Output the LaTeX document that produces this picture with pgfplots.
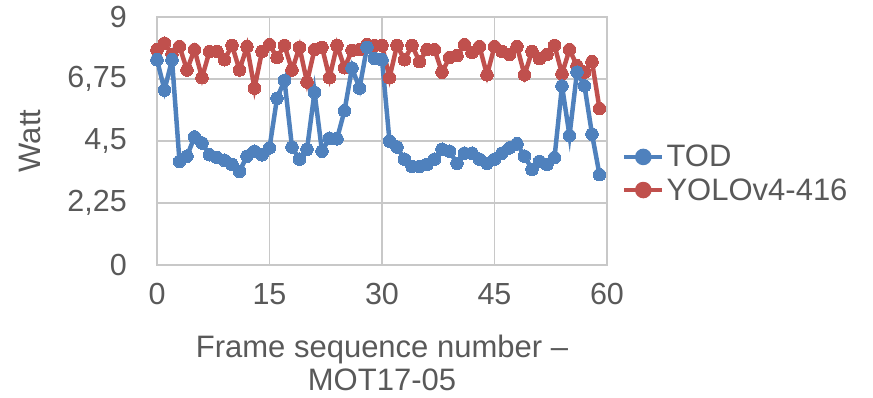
\documentclass[border=0pt]{standalone}
\usepackage{pgfplots}
\pgfplotsset{compat=1.18}
\usepackage{fontspec}
\setmainfont{Liberation Sans}
\definecolor{tod}{HTML}{4F81BD}
\definecolor{yolo}{HTML}{C0504D}
\definecolor{txt}{HTML}{595959}
\definecolor{gridc}{HTML}{C8C8C8}
\begin{document}
\begin{tikzpicture}
\path[use as bounding box] (0pt,0pt) rectangle (873pt,397pt);
\begin{axis}[
  at={(157pt,132pt)}, anchor=south west,
  scale only axis, width=450pt, height=248pt,
  xmin=0, xmax=60, ymin=0, ymax=9,
  xtick={0,15,30,45,60},
  ytick={0,2.25,4.5,6.75,9},
  yticklabels={0,{2,25},{4,5},{6,75},9},
  xticklabels={0,15,30,45,60},
  grid=major,
  major grid style={gridc, line width=1.5pt},
  axis line style={gridc, line width=1.5pt},
  tick style={draw=none},
  ticklabel style={font=\fontsize{30.5}{34}\selectfont, text=txt, inner sep=0pt},
  yticklabel style={xshift=-30pt},
  xticklabel style={yshift=-18pt},
  xlabel={Frame sequence number --\\MOT17-05},
  xlabel style={at={(axis description cs:0.5,0)}, anchor=north, inner sep=0pt,
     font=\fontsize{31}{32.5}\selectfont, text=txt, align=center, yshift=-70pt},
  ylabel={Watt},
  ylabel style={at={(axis description cs:-0.282,0.5)}, anchor=center,
     font=\fontsize{31}{34}\selectfont, text=txt},
  legend style={at={(1.033,0.369)}, anchor=west, draw=none, fill=none, inner sep=0pt,
     font=\fontsize{31}{34}\selectfont, text=txt, row sep=6pt},
  legend cell align=left,
  legend image code/.code={\draw[mark repeat=2,mark phase=2,#1] plot coordinates {(0pt,0pt) (19pt,0pt) (38pt,0pt)};},
]
\addlegendimage{tod, line width=4.5pt, mark=*, mark size=6pt, mark options={solid}}
\addlegendentry{TOD}
\addlegendimage{yolo, line width=4.5pt, mark=*, mark size=6pt, mark options={solid}}
\addlegendentry{YOLOv4-416}
\addplot[forget plot, yolo, line width=4.5pt, mark=*, mark size=6.3pt, mark options={solid, line width=0pt}] coordinates {
(0,7.82)(1,8.05)(2,7.64)(3,7.93)(4,7.08)(5,7.82)(6,6.8)(7,7.75)(8,7.75)(9,7.45)
(10,7.97)(11,7.08)(12,7.93)(13,6.42)(14,7.75)(15,8.0)(16,7.53)(17,7.97)(18,7.08)(19,7.9)
(20,6.64)(21,7.82)(22,7.9)(23,6.8)(24,7.97)(25,7.16)(26,7.79)(27,7.82)(28,8.0)(29,7.97)
(30,7.97)(31,6.8)(32,7.97)(33,7.45)(34,7.97)(35,7.38)(36,7.82)(37,7.82)(38,7.0)(39,7.53)
(40,7.6)(41,8.0)(42,7.71)(43,7.93)(44,6.9)(45,7.93)(46,7.75)(47,7.64)(48,7.93)(49,6.9)
(50,7.75)(51,7.49)(52,7.64)(53,7.97)(54,6.94)(55,7.82)(56,7.23)(57,7.0)(58,7.38)(59,5.68)
};
\addplot[forget plot, tod, line width=4.5pt, mark=*, mark size=6.3pt, mark options={solid, line width=0pt}] coordinates {
(0,7.45)(1,6.35)(2,7.45)(3,3.76)(4,3.95)(5,4.65)(6,4.43)(7,4.0)(8,3.9)(9,3.8)
(10,3.65)(11,3.4)(12,3.95)(13,4.13)(14,4.0)(15,4.25)(16,6.05)(17,6.7)(18,4.28)(19,3.84)
(20,4.2)(21,6.27)(22,4.13)(23,4.6)(24,4.58)(25,5.6)(26,7.15)(27,6.42)(28,7.9)(29,7.5)
(30,7.45)(31,4.5)(32,4.28)(33,3.84)(34,3.58)(35,3.58)(36,3.65)(37,3.84)(38,4.2)(39,4.13)
(40,3.69)(41,4.06)(42,4.06)(43,3.84)(44,3.69)(45,3.84)(46,4.06)(47,4.25)(48,4.4)(49,3.95)
(50,3.47)(51,3.76)(52,3.65)(53,3.9)(54,6.5)(55,4.7)(56,7.0)(57,6.5)(58,4.75)(59,3.28)
};
\end{axis}
\end{tikzpicture}
\end{document}
